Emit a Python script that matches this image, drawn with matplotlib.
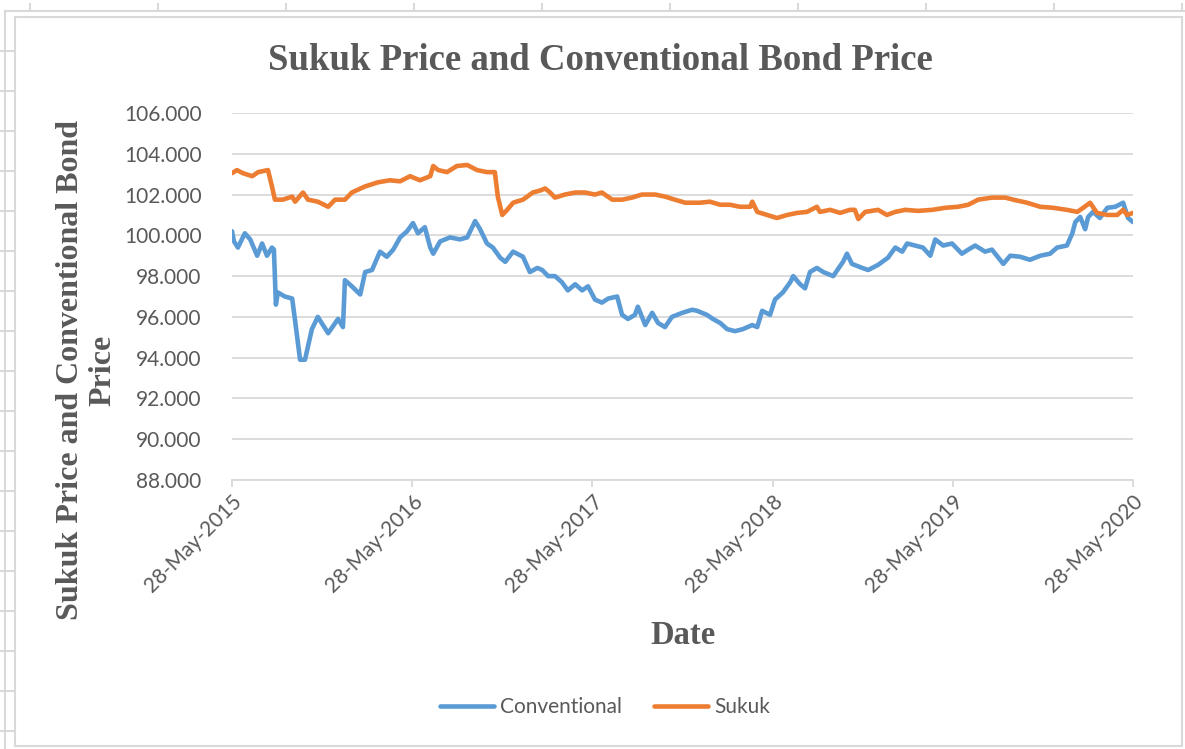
import numpy as np
import pandas as pd
import matplotlib
matplotlib.use('Agg')
import matplotlib.pyplot as plt
import matplotlib.dates as mdates
from matplotlib.lines import Line2D
from matplotlib.patches import Rectangle

# ---- data -------------------------------------------------------------------
conv_dates = ['2015-05-28', '2015-06-01', '2015-06-09', '2015-06-23', '2015-07-04', '2015-07-18',
              '2015-07-28', '2015-08-07', '2015-08-17', '2015-08-21', '2015-08-25', '2015-08-29',
              '2015-09-12', '2015-09-27', '2015-10-03', '2015-10-13', '2015-10-23', '2015-11-06',
              '2015-11-18', '2015-12-09', '2015-12-29', '2016-01-08', '2016-01-12', '2016-01-26',
              '2016-02-12', '2016-02-22', '2016-03-07', '2016-03-23', '2016-04-06', '2016-04-19',
              '2016-05-03', '2016-05-17', '2016-05-29', '2016-06-08', '2016-06-22', '2016-07-03',
              '2016-07-09', '2016-07-23', '2016-08-12', '2016-09-01', '2016-09-16', '2016-10-02',
              '2016-10-12', '2016-10-26', '2016-11-07', '2016-11-22', '2016-12-02', '2016-12-18',
              '2017-01-07', '2017-01-21', '2017-02-05', '2017-02-15', '2017-02-27', '2017-03-13',
              '2017-03-27', '2017-04-08', '2017-04-23', '2017-05-07', '2017-05-19', '2017-06-02',
              '2017-06-16', '2017-06-29', '2017-07-17', '2017-07-27', '2017-08-08', '2017-08-22',
              '2017-08-28', '2017-09-12', '2017-09-26', '2017-10-08', '2017-10-22', '2017-11-05',
              '2017-11-26', '2017-12-16', '2017-12-26', '2018-01-15', '2018-01-27', '2018-02-11',
              '2018-02-25', '2018-03-13', '2018-03-29', '2018-04-17', '2018-04-27', '2018-05-07',
              '2018-05-23', '2018-06-02', '2018-06-18', '2018-07-03', '2018-07-09', '2018-07-23',
              '2018-08-02', '2018-08-12', '2018-08-26', '2018-09-08', '2018-09-28', '2018-10-18',
              '2018-10-26', '2018-11-05', '2018-11-26', '2018-12-08', '2018-12-28', '2019-01-17',
              '2019-02-01', '2019-02-15', '2019-02-25', '2019-03-13', '2019-03-29', '2019-04-13',
              '2019-04-23', '2019-05-09', '2019-05-27', '2019-06-16', '2019-06-29', '2019-07-13',
              '2019-08-02', '2019-08-16', '2019-09-08', '2019-09-22', '2019-10-12', '2019-11-01',
              '2019-11-22', '2019-12-12', '2019-12-26', '2020-01-15', '2020-01-26', '2020-02-01',
              '2020-02-11', '2020-02-21', '2020-02-27', '2020-03-08', '2020-03-22', '2020-04-06',
              '2020-04-22', '2020-05-08', '2020-05-18', '2020-05-28']
conv_price = [100.2, 99.7, 99.4, 100.1, 99.8, 99.0,
              99.6, 99.0, 99.4, 99.3, 96.6, 97.2,
              97.0, 96.9, 95.8, 93.9, 93.9, 95.4,
              96.0, 95.2, 95.9, 95.5, 97.8, 97.5,
              97.1, 98.2, 98.3, 99.2, 98.95, 99.3,
              99.9, 100.2, 100.6, 100.1, 100.4, 99.4,
              99.1, 99.7, 99.9, 99.8, 99.9, 100.7,
              100.3, 99.6, 99.4, 98.9, 98.7, 99.2,
              98.95, 98.2, 98.4, 98.3, 98.0, 98.0,
              97.7, 97.3, 97.6, 97.3, 97.5, 96.85,
              96.7, 96.9, 97.0, 96.1, 95.9, 96.1,
              96.5, 95.6, 96.2, 95.7, 95.5, 96.0,
              96.2, 96.35, 96.3, 96.1, 95.9, 95.7,
              95.4, 95.3, 95.4, 95.6, 95.5, 96.3,
              96.1, 96.85, 97.2, 97.7, 98.0, 97.6,
              97.4, 98.2, 98.4, 98.2, 98.0, 98.7,
              99.1, 98.6, 98.4, 98.3, 98.55, 98.9,
              99.4, 99.2, 99.6, 99.5, 99.4, 99.0,
              99.8, 99.5, 99.6, 99.1, 99.3, 99.5,
              99.2, 99.3, 98.6, 99.0, 98.95, 98.8,
              99.0, 99.1, 99.4, 99.5, 100.1, 100.65,
              100.9, 100.3, 100.9, 101.15, 100.85, 101.35,
              101.4, 101.6, 100.85, 100.65]

sukuk_dates = ['2015-05-28', '2015-06-07', '2015-06-19', '2015-07-08', '2015-07-20', '2015-08-09',
               '2015-08-17', '2015-08-23', '2015-09-08', '2015-09-27', '2015-10-03', '2015-10-19',
               '2015-10-29', '2015-11-18', '2015-12-09', '2015-12-23', '2016-01-12', '2016-01-26',
               '2016-02-22', '2016-03-19', '2016-04-12', '2016-05-03', '2016-05-23', '2016-06-12',
               '2016-07-03', '2016-07-09', '2016-07-19', '2016-08-06', '2016-08-26', '2016-09-16',
               '2016-10-06', '2016-10-26', '2016-11-11', '2016-11-17', '2016-11-26', '2016-12-06',
               '2016-12-18', '2017-01-07', '2017-01-27', '2017-02-11', '2017-02-21', '2017-03-03',
               '2017-03-13', '2017-04-02', '2017-04-23', '2017-05-13', '2017-06-02', '2017-06-16',
               '2017-07-07', '2017-07-27', '2017-08-16', '2017-09-05', '2017-10-02', '2017-10-22',
               '2017-11-11', '2017-12-02', '2018-01-01', '2018-01-21', '2018-02-11', '2018-03-03',
               '2018-03-23', '2018-04-13', '2018-04-17', '2018-04-27', '2018-05-17', '2018-06-06',
               '2018-06-27', '2018-07-17', '2018-08-06', '2018-08-26', '2018-09-01', '2018-09-22',
               '2018-10-12', '2018-11-01', '2018-11-11', '2018-11-18', '2018-12-02', '2018-12-28',
               '2019-01-15', '2019-02-01', '2019-02-21', '2019-03-19', '2019-04-17', '2019-05-13',
               '2019-06-08', '2019-06-29', '2019-07-19', '2019-08-16', '2019-09-12', '2019-09-28',
               '2019-10-26', '2019-11-22', '2019-12-18', '2020-01-15', '2020-02-05', '2020-02-17',
               '2020-03-02', '2020-03-16', '2020-04-06', '2020-04-26', '2020-05-08', '2020-05-16',
               '2020-05-28']
sukuk_price = [103.05, 103.2, 103.05, 102.9, 103.1, 103.2,
               102.4, 101.75, 101.75, 101.9, 101.65, 102.1,
               101.75, 101.65, 101.4, 101.75, 101.75, 102.1,
               102.4, 102.6, 102.7, 102.65, 102.9, 102.7,
               102.9, 103.4, 103.2, 103.1, 103.4, 103.45,
               103.2, 103.1, 103.1, 101.9, 101.0, 101.25,
               101.6, 101.75, 102.1, 102.2, 102.3, 102.1,
               101.85, 102.0, 102.1, 102.1, 102.0, 102.1,
               101.75, 101.75, 101.85, 102.0, 102.0, 101.9,
               101.75, 101.6, 101.6, 101.65, 101.5, 101.5,
               101.4, 101.4, 101.65, 101.15, 101.0, 100.85,
               101.0, 101.1, 101.15, 101.4, 101.15, 101.25,
               101.1, 101.25, 101.25, 100.8, 101.15, 101.25,
               101.0, 101.15, 101.25, 101.2, 101.25, 101.35,
               101.4, 101.5, 101.75, 101.85, 101.85, 101.75,
               101.6, 101.4, 101.35, 101.25, 101.15, 101.35,
               101.6, 101.1, 101.0, 101.0, 101.25, 101.0,
               101.1]

tick_years = [2015, 2016, 2017, 2018, 2019, 2020]
y_ticks = [88, 90, 92, 94, 96, 98, 100, 102, 104, 106]

# ---- figure ----------------------------------------------------------------
W, H = 1185, 749
grey_txt = '#595959'
grey_line = '#D9D9D9'

fig = plt.figure(figsize=(W / 100, H / 100), dpi=100)
fig.patch.set_facecolor('white')

def fx(px):
    return px / W

def fy(py):
    return 1 - py / H

# spreadsheet grid behind the chart
fig.add_artist(Line2D([fx(5), fx(1185)], [fy(11), fy(11)], color=grey_line, lw=1.5, zorder=-3))
fig.add_artist(Line2D([fx(5), fx(5)], [fy(11), fy(749)], color=grey_line, lw=1.5, zorder=-3))
for xp in range(30, 1185, 128):
    fig.add_artist(Line2D([fx(xp), fx(xp)], [fy(4), fy(11)], color=grey_line, lw=1.5, zorder=-3))
for yp in range(51, 749, 40):
    fig.add_artist(Line2D([fx(0), fx(15)], [fy(yp), fy(yp)], color=grey_line, lw=1.5, zorder=-3))
fig.add_artist(Rectangle((fx(15), fy(746)), fx(1182) - fx(15), fy(17) - fy(746),
                         transform=fig.transFigure, facecolor='white',
                         edgecolor=grey_line, lw=1.5, zorder=-2))

ax = fig.add_axes([fx(232), fy(480), fx(1133) - fx(232), fy(113) - fy(480)])
ax.set_facecolor('none')
ax.set_zorder(1)

ax.plot(pd.to_datetime(conv_dates), conv_price, color='#5B9BD5', lw=3.3,
        label='Conventional', solid_joinstyle='round', solid_capstyle='round', zorder=3)
ax.plot(pd.to_datetime(sukuk_dates), sukuk_price, color='#ED7D31', lw=3.3,
        label='Sukuk', solid_joinstyle='round', solid_capstyle='round', zorder=3)

ax.set_xlim(pd.Timestamp('2015-05-28'), pd.Timestamp('2020-05-28'))
ax.set_ylim(88, 106)
ax.set_yticks(y_ticks)
ax.set_yticklabels([f'{v:.3f}' for v in y_ticks])
ax.set_xticks(pd.to_datetime([f'{y}-05-28' for y in tick_years]))
ax.xaxis.set_major_formatter(mdates.DateFormatter('%d-%b-%Y'))

ax.grid(axis='y', color=grey_line, lw=1.3, zorder=0)
for s in ['top', 'right', 'left']:
    ax.spines[s].set_visible(False)
ax.spines['bottom'].set_color(grey_line)
ax.spines['bottom'].set_linewidth(1.3)

ax.tick_params(axis='y', length=0, pad=22, labelsize=15, labelcolor=grey_txt)
ax.tick_params(axis='x', length=5, width=1.3, color=grey_line, pad=3,
               labelsize=15, labelcolor=grey_txt)
for lbl in ax.get_yticklabels() + ax.get_xticklabels():
    lbl.set_fontfamily('Lato')
for lbl in ax.get_xticklabels():
    lbl.set_rotation(45)
    lbl.set_ha('right')
    lbl.set_va('top')
    lbl.set_rotation_mode('anchor')

fig.text(fx(600), fy(60), 'Sukuk Price and Conventional Bond Price', ha='center', va='center',
         fontsize=26.5, fontweight='bold', family='Liberation Serif', color=grey_txt)
fig.text(fx(87), fy(370), 'Sukuk Price and Conventional Bond\nPrice', ha='center', va='center',
         rotation=90, fontsize=23, fontweight='bold', family='Liberation Serif',
         color=grey_txt, linespacing=1.15)
fig.text(fx(683), fy(635), 'Date', ha='center', va='center',
         fontsize=23.5, fontweight='bold', family='Liberation Serif', color=grey_txt)

leg = fig.legend(loc='center', bbox_to_anchor=(fx(605), fy(707)), ncol=2, frameon=False,
                 handlelength=2.6, handletextpad=0.3, columnspacing=1.5,
                 prop={'family': 'Lato', 'size': 15})
for t in leg.get_texts():
    t.set_color(grey_txt)

plt.savefig('out.png', dpi=100)
